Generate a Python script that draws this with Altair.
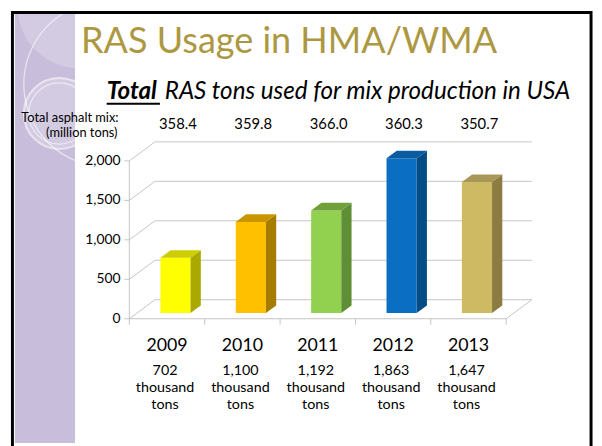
import altair as alt
import pandas as pd

# ---------------- data ----------------
years = ["2009", "2010", "2011", "2012", "2013"]
ras_bar_values = [700, 1155, 1300, 1960, 1660]          # bar heights as drawn
total_mix_million_tons = ["358.4", "359.8", "366.0", "360.3", "350.7"]
ras_thousand_tons = ["702", "1,100", "1,192", "1,863", "1,647"]
y_tick_values = [0, 500, 1000, 1500, 2000]
y_tick_labels = ["0", "500", "1,000", "1,500", "2,000"]
front_colors = ["#FFFF00", "#FFC000", "#92D050", "#0A6FC2", "#CFBA64"]
side_colors = ["#A9A900", "#A67C00", "#5F8E34", "#034C86", "#8B7C42"]
top_colors = ["#CDCD00", "#C99600", "#6FA03A", "#0A5BA0", "#A89758"]
title_text = "RAS Usage in HMA/WMA"
subtitle_bold = "Total"
subtitle_rest = "RAS tons used for mix production in USA"
mix_label_1 = "Total asphalt mix:"
mix_label_2 = "(million tons)"
unit_text = "thousand\ntons"

# ---------------- layout ----------------
W, H = 594, 438
N = len(years)
X_RANGE = [123, 505]
Y_RANGE = [312, 152]
Y_MAX = 2000
x_scale = alt.Scale(domain=[0, N], range=X_RANGE, nice=False, zero=False)
y_scale = alt.Scale(domain=[0, Y_MAX], range=Y_RANGE, nice=False)
PX_X = (X_RANGE[1] - X_RANGE[0]) / N
PX_Y = (Y_RANGE[0] - Y_RANGE[1]) / Y_MAX
DDX = 26 / PX_X          # full depth of the 3D box, in data units
DDY = 19.3 / PX_Y
D0, D1 = 0.3, 0.7        # bar depth span
BL, BR = 0.31, 0.71      # bar span within a category
FONT = "Lato"
GRID = "#C4C4C4"

X = lambda f: alt.X(f, scale=x_scale, axis=None)
Y = lambda f: alt.Y(f, scale=y_scale, axis=None)

# ---------------- derived tables ----------------
bars = pd.DataFrame({
    "year": years, "v": ras_bar_values, "i": range(N),
    "front": front_colors, "side": side_colors, "top": top_colors,
})
bars["fl"] = bars["i"] + BL + D0 * DDX
bars["fr"] = bars["i"] + BR + D0 * DDX
bars["yb"] = D0 * DDY
bars["yt"] = bars["yb"] + bars["v"]
dd_x = (D1 - D0) * DDX
dd_y = (D1 - D0) * DDY

side_rows, top_rows = [], []
for _, r in bars.iterrows():
    side_rows.append({"year": r.year, "col": r.side, "x": r.fr, "lo": r.yb, "hi": r.yt})
    side_rows.append({"year": r.year, "col": r.side, "x": r.fr + dd_x, "lo": r.yb + dd_y, "hi": r.yt + dd_y})
    top_rows.append({"year": r.year, "col": r.top, "y": r.yt, "xa": r.fl, "xb": r.fr})
    top_rows.append({"year": r.year, "col": r.top, "y": r.yt + dd_y, "xa": r.fl + dd_x, "xb": r.fr + dd_x})
side_df = pd.DataFrame(side_rows)
top_df = pd.DataFrame(top_rows)

rules = []
for v in y_tick_values:
    rules.append({"x": DDX, "x2": N + DDX, "y": v + DDY, "y2": v + DDY})   # back wall
    rules.append({"x": 0, "x2": DDX, "y": v, "y2": v + DDY})               # side wall
    rules.append({"x": -5 / PX_X, "x2": 0, "y": v, "y2": v})               # left ticks
rules.append({"x": 0, "x2": 0, "y": 0, "y2": Y_MAX})                       # value axis
rules.append({"x": 0, "x2": N, "y": 0, "y2": 0})                           # floor front
rules.append({"x": N, "x2": N + DDX, "y": 0, "y2": DDY})                   # floor right
for k in range(N + 1):
    rules.append({"x": k, "x2": k, "y": 0, "y2": -6 / PX_Y})               # category ticks
rules_df = pd.DataFrame(rules)

labels = pd.DataFrame({
    "c": [i + 0.5 for i in range(N)], "year": years,
    "mix": total_mix_million_tons,
    "ras": [f"{a}\n{unit_text}" for a in ras_thousand_tons],
})
ticks_df = pd.DataFrame({"v": y_tick_values, "t": y_tick_labels, "x0": [0] * len(y_tick_values)})
one = pd.DataFrame({"a": [0]})

# ---------------- slide decoration ----------------
purple = alt.Chart(one).mark_rect(color="#C8BDDB").encode(
    x=alt.value(7), x2=alt.value(68), y=alt.value(3), y2=alt.value(H))
deco = alt.Chart(pd.DataFrame({
    "cx": [72, 52, 52, 100], "cy": [-4, 104, 104, 74],
    "s": [124 ** 2, 72 ** 2, 62 ** 2, 168 ** 2],
    "op": [0.3, 0.3, 0.0, 0.0], "sw": [0, 2, 1.2, 1.3],
})).mark_point(shape="circle", filled=False, stroke="white", fill="white").encode(
    x=alt.X("cx:Q", scale=None), y=alt.Y("cy:Q", scale=None),
    size=alt.Size("s:Q", scale=None), fillOpacity=alt.FillOpacity("op:Q", scale=None),
    strokeWidth=alt.StrokeWidth("sw:Q", scale=None), strokeOpacity=alt.value(0.85))
white = alt.Chart(one).mark_rect(color="white").encode(
    x=alt.value(68), x2=alt.value(591), y=alt.value(2), y2=alt.value(H))
border = alt.Chart(one).mark_rect(fill=None, stroke="black", strokeWidth=3).encode(
    x=alt.value(4.5), x2=alt.value(591), y=alt.value(1.5), y2=alt.value(H + 10))

title = alt.Chart(one).mark_text(font=FONT, fontSize=36.5, color="#AD9842", align="left",
                                 baseline="alphabetic").encode(
    x=alt.value(74), y=alt.value(43), text=alt.value(title_text))
sub_b = alt.Chart(one).mark_text(font=FONT, fontSize=24.5, fontStyle="italic", fontWeight="bold",
                                 align="left", baseline="alphabetic", color="black").encode(
    x=alt.value(100), y=alt.value(89), text=alt.value(subtitle_bold))
sub_u = alt.Chart(one).mark_rule(color="black", strokeWidth=2).encode(
    x=alt.value(100), x2=alt.value(154), y=alt.value(94))
sub_r = alt.Chart(one).mark_text(font=FONT, fontSize=24.5, fontStyle="italic",
                                 align="left", baseline="alphabetic", color="black").encode(
    x=alt.value(159), y=alt.value(89), text=alt.value(subtitle_rest))
mix1 = alt.Chart(one).mark_text(font=FONT, fontSize=13, align="right", baseline="middle",
                                color="black").encode(
    x=alt.value(112), y=alt.value(109), text=alt.value(mix_label_1))
mix2 = alt.Chart(one).mark_text(font=FONT, fontSize=13, align="right", baseline="middle",
                                color="black").encode(
    x=alt.value(111), y=alt.value(124), text=alt.value(mix_label_2))

# ---------------- chart ----------------
grid = alt.Chart(rules_df).mark_rule(color=GRID, strokeWidth=1).encode(
    x=X("x:Q"), x2="x2:Q", y=Y("y:Q"), y2="y2:Q")
front = alt.Chart(bars).mark_rect().encode(
    x=X("fl:Q"), x2="fr:Q", y=Y("yt:Q"), y2="yb:Q", color=alt.Color("front:N", scale=None))
side = alt.Chart(side_df).mark_area(orient="vertical").encode(
    x=X("x:Q"), y=alt.Y("hi:Q", scale=y_scale, axis=None, stack=None), y2="lo:Q",
    detail="year:N", color=alt.Color("col:N", scale=None))
top = alt.Chart(top_df).mark_area(orient="horizontal").encode(
    y=Y("y:Q"), x=alt.X("xa:Q", scale=x_scale, axis=None, stack=None), x2="xb:Q",
    detail="year:N", color=alt.Color("col:N", scale=None))

tick_text = alt.Chart(ticks_df).mark_text(font=FONT, fontSize=14, align="right",
                                          baseline="middle", dx=-9, color="black").encode(
    x=X("x0:Q"), y=Y("v:Q"), text="t:N")
mix_vals = alt.Chart(labels).mark_text(font=FONT, fontSize=15, baseline="middle",
                                       dx=11, color="black").encode(
    x=X("c:Q"), y=alt.value(115), text="mix:N")
year_text = alt.Chart(labels).mark_text(font=FONT, fontSize=18, baseline="middle",
                                        color="black").encode(
    x=X("c:Q"), y=alt.value(340), text="year:N")
ras_text = alt.Chart(labels).mark_text(font=FONT, fontSize=14.5, baseline="top", dx=-2,
                                       lineBreak="\n", lineHeight=17.5, color="black").encode(
    x=X("c:Q"), y=alt.value(358), text="ras:N")

chart = alt.layer(
    purple, deco, white, border, title, sub_b, sub_u, sub_r, mix1, mix2,
    grid, front, side, top, tick_text, mix_vals, year_text, ras_text,
).properties(
    width=W, height=H, padding=0,
    autosize=alt.AutoSizeParams(type="none"),
    background="white",
).configure_view(stroke=None)

chart.save("out.html", embed_options={"renderer": "svg", "actions": False})
